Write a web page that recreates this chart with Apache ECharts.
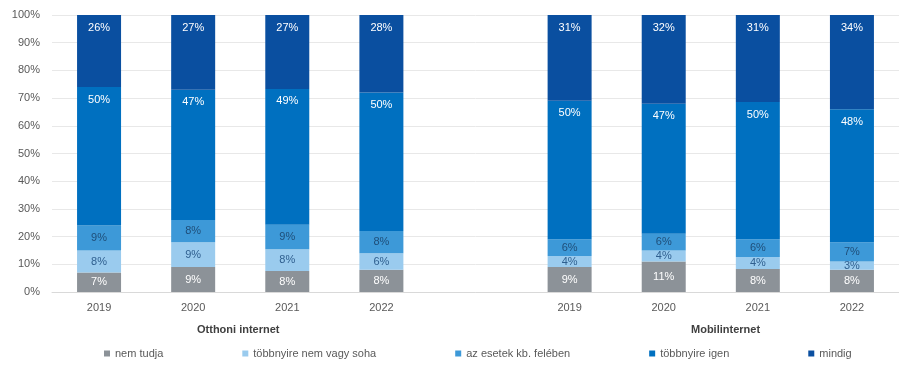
<!DOCTYPE html>
<html>
<head>
<meta charset="utf-8">
<script src="https://cdn.jsdelivr.net/npm/echarts@6/dist/echarts.min.js"></script>
<style>
html,body{margin:0;padding:0;background:#fff;}
#chart{width:899px;height:374px;}
</style>
</head>
<body>
<div id="chart"></div>
<script>
// Years per group
const years = ['2019', '2020', '2021', '2022'];
const groupNames = ['Otthoni internet', 'Mobilinternet'];
const seriesNames = ['nem tudja', 'többnyire nem vagy soha', 'az esetek kb. felében', 'többnyire igen', 'mindig'];

// Otthoni internet (home internet), % per year
const homeNemTudja   = [7.0, 9.0, 7.6, 8.0];
const homeTobbNem    = [8.0, 9.0, 7.8, 6.0];
const homeFeleben    = [9.0, 8.0, 8.9, 8.0];
const homeTobbIgen   = [50.0, 47.0, 49.0, 50.0];
const homeMindig     = [26.0, 27.0, 26.7, 28.0];

// Mobilinternet, % per year
const mobNemTudja    = [9.0, 11.0, 8.3, 8.0];
const mobTobbNem     = [4.0, 4.0, 4.3, 3.0];
const mobFeleben     = [6.0, 6.0, 6.4, 7.0];
const mobTobbIgen    = [50.0, 47.0, 49.6, 48.0];
const mobMindig      = [31.0, 32.0, 31.4, 34.0];

const yTicks = [0, 10, 20, 30, 40, 50, 60, 70, 80, 90, 100];

const colors = ['#8c9298', '#9acbee', '#3d99d8', '#0070c0', '#0a4fa0'];
const labelColors = ['#ffffff', '#2f5f8f', '#1f4e79', '#ffffff', '#ffffff'];
const labelPos = ['inside', 'inside', 'inside', 'insideTop', 'insideTop'];

const categories = years.concat(['']).concat(years);
const homeSets = [homeNemTudja, homeTobbNem, homeFeleben, homeTobbIgen, homeMindig];
const mobSets = [mobNemTudja, mobTobbNem, mobFeleben, mobTobbIgen, mobMindig];

const series = seriesNames.map((name, i) => ({
  name: name,
  type: 'bar',
  stack: 'total',
  barWidth: 44,
  itemStyle: { color: colors[i] },
  label: {
    show: true,
    position: labelPos[i],
    distance: 7,
    color: labelColors[i],
    fontSize: 11,
    fontFamily: 'Liberation Sans, Arial, sans-serif',
    formatter: p => Math.round(p.value) + '%'
  },
  data: homeSets[i].concat(['-']).concat(mobSets[i])
}));

const chart = echarts.init(document.getElementById('chart'), null, { renderer: 'canvas' });
chart.setOption({
  animation: false,
  backgroundColor: '#ffffff',
  textStyle: { fontFamily: 'Liberation Sans, Arial, sans-serif' },
  grid: { left: 52, top: 15, width: 855, height: 277, containLabel: false },
  xAxis: {
    type: 'category',
    data: categories,
    axisLine: { show: true, lineStyle: { color: '#d9d9d9' } },
    axisTick: { show: false },
    axisLabel: { color: '#595959', fontSize: 11, margin: 10 }
  },
  yAxis: {
    type: 'value',
    min: yTicks[0],
    max: yTicks[yTicks.length - 1],
    interval: 10,
    axisLine: { show: false },
    axisTick: { show: false },
    axisLabel: { color: '#595959', fontSize: 11, formatter: '{value}%', margin: 12 },
    splitLine: { lineStyle: { color: '#e8e8e8' } }
  },
  legend: {
    data: seriesNames,
    left: 99,
    top: 343,
    icon: 'rect',
    itemWidth: 6,
    itemHeight: 6,
    itemGap: 79,
    textStyle: { color: '#595959', fontSize: 11 }
  },
  graphic: [
    { type: 'text', left: 242 - 45, top: 324, style: { text: groupNames[0], fill: '#404040', font: 'bold 11px Liberation Sans, Arial, sans-serif' } },
    { type: 'text', left: 729 - 38, top: 324, style: { text: groupNames[1], fill: '#404040', font: 'bold 11px Liberation Sans, Arial, sans-serif' } }
  ],
  series: series
});
</script>
</body>
</html>
